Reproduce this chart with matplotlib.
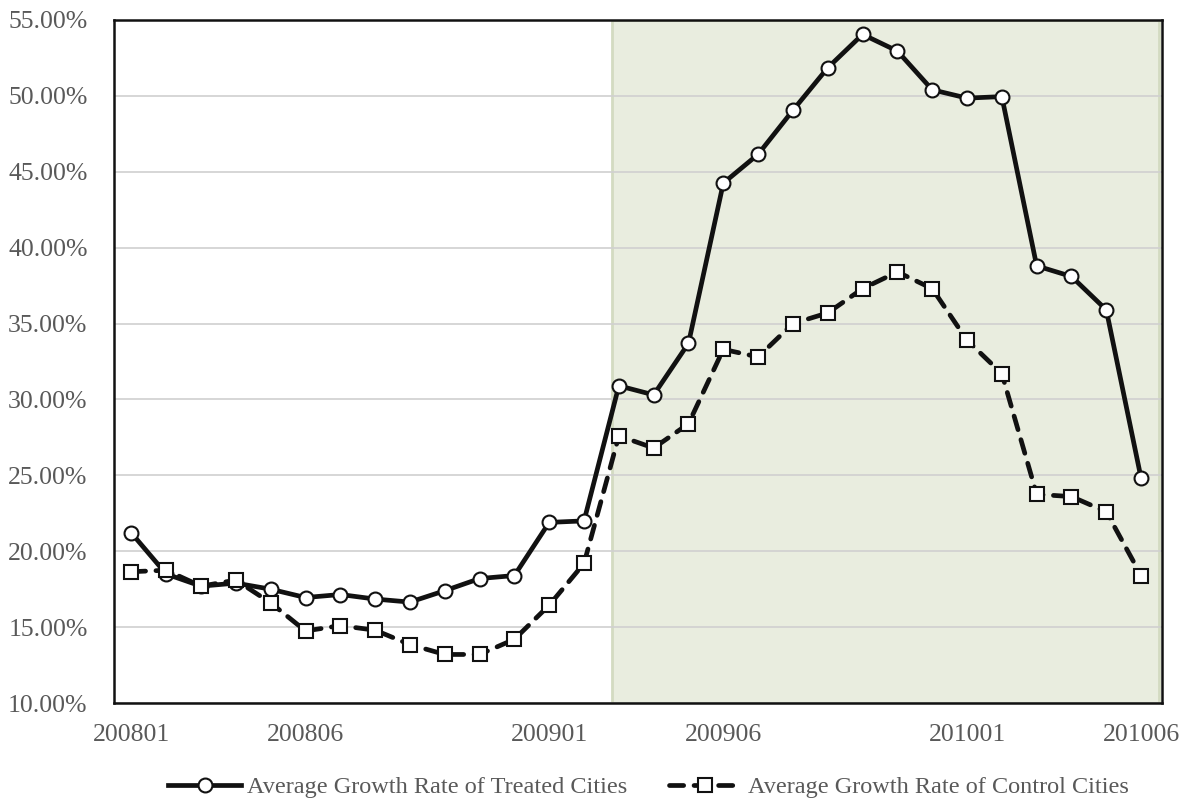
"""
Treated vs control cities: average growth rate by month, 2008-01 to 2010-06.
"""

import matplotlib
matplotlib.use("Agg")
import matplotlib.pyplot as plt
import matplotlib.ticker as ticker

months = [f"{y}{m:02d}" for y in (2008, 2009, 2010) for m in range(1, 13)][:30]

treated = [21.2, 18.5, 17.7, 17.9, 17.5, 16.95, 17.15, 16.85, 16.65, 17.4,
           18.2, 18.4, 21.9, 22.0, 30.9, 30.3, 33.7, 44.25, 46.15, 49.05,
           51.85, 54.05, 52.95, 50.4, 49.85, 49.95, 38.8, 38.1, 35.9, 24.8]
control = [18.65, 18.75, 17.7, 18.1, 16.6, 14.75, 15.1, 14.8, 13.85, 13.2,
           13.2, 14.2, 16.45, 19.2, 27.6, 26.8, 28.4, 33.3, 32.8, 35.0,
           35.7, 37.3, 38.4, 37.3, 33.9, 31.7, 23.75, 23.6, 22.6, 18.4]

label_idx = [0, 5, 12, 17, 24, 29]
shade_start = 13.8

FONT = "Liberation Serif"
TEXT_COLOR = "#595959"

plt.rcParams["font.family"] = [FONT, "DejaVu Serif"]

fig = plt.figure(figsize=(11.95, 7.98), dpi=100)
ax = fig.add_axes([0.0954, 0.119, 0.8770, 0.856])

x = list(range(len(months)))

# Treatment period shading
ax.axvspan(shade_start, 29.5, facecolor="#e9eddf", edgecolor="#d3dbc1",
           linewidth=2, zorder=0)

ax.plot(x, treated, color="#111111", linewidth=3.4, marker="o", markersize=10,
        markerfacecolor="white", markeredgecolor="#111111", markeredgewidth=1.5,
        label="Average Growth Rate of Treated Cities", zorder=3)
ax.plot(x, control, color="#111111", linewidth=3.4, linestyle=(0, (3, 2.2)),
        dash_capstyle="round", marker="s", markersize=10,
        markerfacecolor="white", markeredgecolor="#111111", markeredgewidth=1.5,
        label="Average Growth Rate of Control Cities", zorder=3)

ax.set_xlim(-0.5, 29.6)
ax.set_ylim(10, 55)
ax.yaxis.set_major_locator(ticker.MultipleLocator(5))
ax.yaxis.set_major_formatter(ticker.FuncFormatter(lambda v, _: f"{v:.2f}%"))
ax.set_xticks(label_idx)
ax.set_xticklabels([months[i] for i in label_idx])

ax.tick_params(axis="both", length=0, labelsize=18.5, labelcolor=TEXT_COLOR)
ax.tick_params(axis="x", pad=15)
ax.tick_params(axis="y", pad=19)

ax.grid(axis="y", color="#d0d0d0", linewidth=1.2, zorder=1)
ax.set_axisbelow(True)
for side in ["left", "bottom", "top", "right"]:
    ax.spines[side].set_color("#111111")
    ax.spines[side].set_linewidth(1.8)

ax.legend(loc="upper center", bbox_to_anchor=(0.51, -0.075), ncol=2,
          frameon=False, fontsize=17.5, handlelength=3.0, columnspacing=1.7,
          handletextpad=0.25, labelcolor=TEXT_COLOR)

fig.savefig("out.png", dpi=100, facecolor="white")
plt.close(fig)
